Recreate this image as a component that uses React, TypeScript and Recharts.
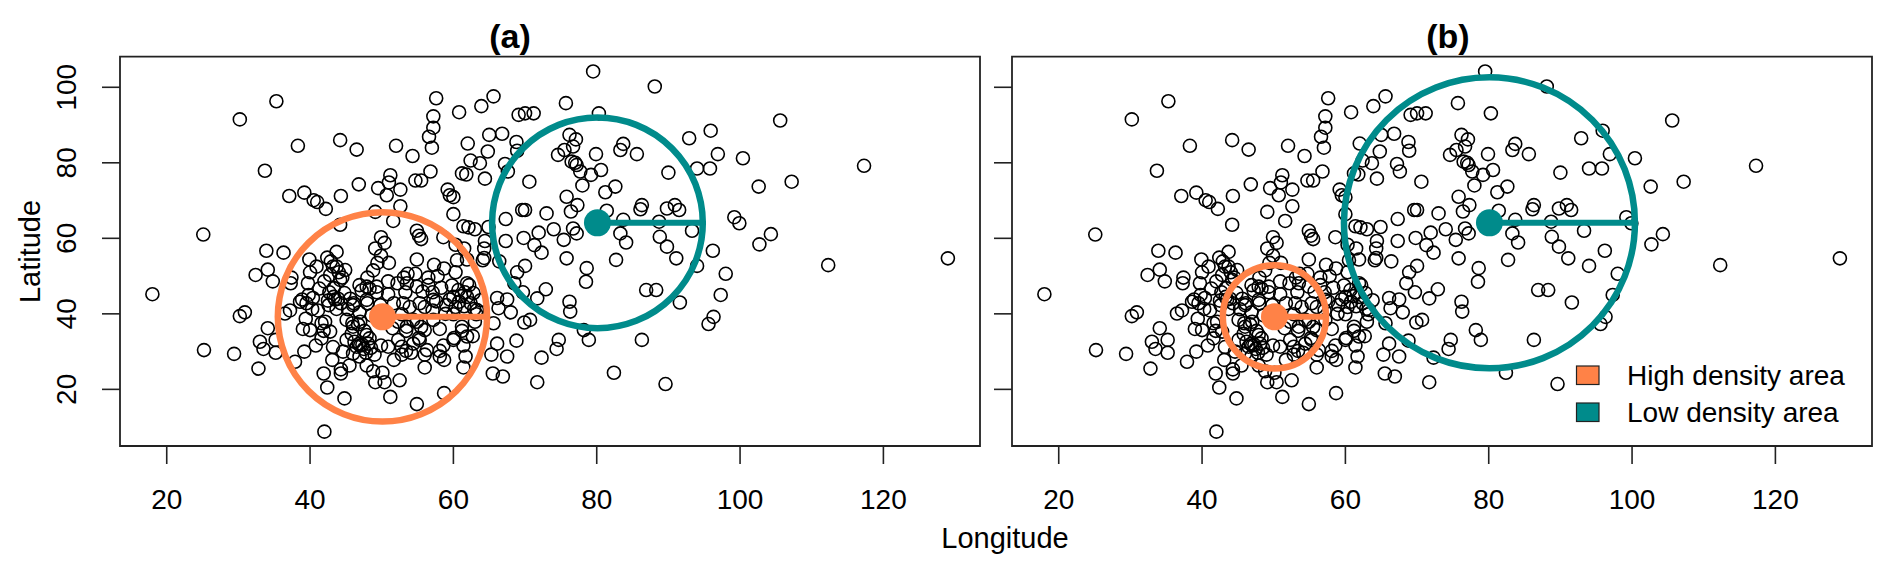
import { ScatterChart, Scatter, XAxis, YAxis, ReferenceArea } from 'recharts'

const FONT = '"Liberation Sans", Arial, Helvetica, sans-serif'

// point cloud (panel b shows the same points)
const longitude = [
  35.3, 30.2, 57.6, 65.6, 63.9, 60.8, 57.2, 57.2, 56.6, 57.0,
  69.1, 65.0, 66.8, 62.0, 64.8, 68.8, 68.9, 62.4, 63.7, 61.2,
  61.8, 64.4, 67.2, 67.6, 38.3, 44.2, 46.5, 33.7, 52.0, 54.3,
  56.8, 54.7, 55.5, 51.2, 51.0, 52.6, 49.5, 50.7, 46.8, 44.3,
  37.1, 39.2, 40.5, 41.0, 42.2, 59.2, 59.5, 60.0, 49.1, 52.6,
  44.2, 51.6, 60.0, 61.4, 62.1, 63.0, 64.9, 67.3, 69.6, 54.9,
  55.2, 55.5, 58.6, 60.3, 64.4, 67.3, 69.8, 66.4, 64.3, 61.5,
  61.9, 60.5, 64.1, 64.3, 68.9, 68.5, 69.7, 68.8, 68.0, 67.5,
  66.1, 65.6, 66.1, 67.5, 65.3, 65.5, 66.9, 18.0, 25.1, 25.2,
  29.4, 30.2, 30.9, 32.4, 33.9, 34.1, 36.3, 34.8, 32.8, 33.0,
  33.5, 34.1, 35.2, 35.2, 36.5, 37.2, 37.4, 37.3, 37.9, 39.2,
  39.0, 39.9, 40.0, 39.7, 38.9, 39.5, 40.4, 40.3, 41.1, 41.3,
  42.4, 42.9, 43.7, 43.2, 44.0, 44.5, 42.0, 42.7, 43.5, 44.3,
  43.7, 42.6, 42.1, 41.6, 41.9, 40.8, 43.2, 43.1, 41.9, 42.4,
  44.3, 44.3, 44.8, 42.0, 45.5, 45.9, 46.7, 46.2, 47.0, 47.5,
  48.1, 47.8, 46.9, 47.9, 48.8, 49.1, 50.4, 50.1, 51.2, 52.5,
  51.7, 49.9, 50.9, 52.8, 53.4, 54.1, 54.4, 55.2, 54.9, 55.5,
  56.0, 56.0, 54.9, 58.7, 58.1, 58.7, 58.6, 58.1, 60.1, 61.2,
  61.4, 61.7, 61.4, 62.7, 63.0, 63.2, 60.0, 60.3, 61.1, 61.6,
  62.2, 62.4, 62.9, 59.5, 59.0, 57.6, 57.1, 56.5, 54.9, 53.3,
  53.0, 53.9, 52.8, 52.3, 53.4, 52.3, 56.0, 57.1, 56.5, 54.7,
  53.1, 53.6, 54.9, 57.3, 58.7, 60.3, 51.0, 49.9, 49.1, 49.4,
  48.8, 49.9, 50.4, 48.0, 46.9, 48.3, 47.2, 46.1, 48.0, 49.3,
  50.9, 51.7, 52.2, 47.6, 79.5, 88.1, 105.6, 75.7, 80.3, 70.0,
  71.2, 92.9, 95.9, 96.9, 100.4, 95.8, 94.0, 117.3, 102.6, 107.2,
  90.0, 85.6, 83.7, 83.3, 79.9, 76.2, 77.1, 76.7, 75.5, 74.6,
  76.5, 77.2, 77.7, 79.2, 80.6, 70.6, 78.0, 81.2, 82.6, 75.8,
  77.3, 76.4, 73.0, 70.0, 81.4, 83.7, 86.3, 86.1, 89.8, 90.9,
  91.5, 88.7, 93.3, 99.2, 99.9, 104.3, 102.7, 96.2, 88.8, 89.8,
  91.1, 83.3, 84.1, 76.7, 77.2, 75.4, 74.0, 71.9, 71.3, 72.3,
  75.8, 82.7, 77.0, 112.3, 129.0, 98.0, 97.3, 96.3, 95.6, 94.0,
  91.6, 86.9, 88.3, 86.3, 78.6, 78.5, 76.2, 76.3, 72.9, 71.7,
  70.0, 70.7, 69.9, 78.2, 78.9, 74.7, 74.4, 72.3, 71.7, 82.4,
  89.6, 40.0, 38.6, 39.8, 42.8, 41.6, 45.1, 46.5, 46.0, 47.0,
  45.1, 46.0, 52.8, 47.9, 43.3, 43.3, 44.2, 42.8, 40.9, 43.7,
  44.9, 46.0, 47.9, 49.3, 47.9, 53.5, 55.3, 57.2, 60.0, 60.7,
  61.9, 61.9, 63.3, 61.2, 61.9, 60.0, 58.1, 56.3, 55.3, 53.5,
  54.4, 56.0, 57.2, 66.3, 46.8, 47.3, 48.5, 43.9, 42.5, 60.8,
  61.5, 44.8, 45.6, 46.9, 45.3, 48.6, 49.8, 50.9, 58.3, 59.8,
  62.8, 63.8, 58.9, 44.6, 45.8, 49.0, 48.3, 51.5, 55.7, 57.8,
  39.4,
]

const latitude = [
  96.3, 91.5, 97.1, 97.6, 95.0, 93.4, 92.3, 89.3, 86.9, 84.0,
  92.7, 87.4, 87.7, 85.1, 83.0, 85.5, 83.2, 80.6, 79.9, 77.2,
  76.9, 75.8, 79.7, 77.7, 84.5, 86.0, 83.5, 77.9, 84.5, 81.8,
  77.7, 75.3, 75.3, 76.7, 74.8, 72.9, 73.3, 71.4, 74.3, 71.2,
  71.2, 72.1, 70.1, 69.6, 67.8, 72.9, 71.4, 70.9, 67.0, 68.5,
  63.6, 64.6, 66.4, 63.2, 62.9, 62.4, 63.0, 65.1, 67.5, 62.0,
  60.7, 59.8, 60.3, 58.3, 59.3, 59.3, 60.1, 53.9, 57.3, 57.3,
  54.4, 54.2, 54.2, 54.8, 51.0, 48.1, 45.7, 32.9, 40.4, 43.8,
  44.2, 37.5, 32.1, 28.7, 29.2, 24.2, 23.4, 45.2, 61.0, 30.4,
  29.4, 39.4, 40.4, 50.3, 56.7, 51.7, 56.2, 48.6, 25.5, 32.6,
  30.7, 36.2, 33.1, 29.7, 40.1, 40.9, 49.6, 48.1, 27.3, 30.0,
  36.0, 54.4, 51.0, 48.1, 43.8, 42.8, 44.2, 41.3, 40.9, 46.7,
  54.9, 53.9, 56.4, 52.5, 51.0, 49.6, 48.6, 45.7, 43.8, 42.8,
  41.3, 42.3, 37.9, 37.5, 35.5, 31.6, 31.2, 27.8, 24.2, 20.5,
  25.3, 24.2, 17.6, 8.8, 26.3, 37.5, 37.2, 32.6, 31.6, 30.7,
  32.1, 29.7, 28.7, 26.3, 24.8, 21.9, 21.9, 24.4, 18.0, 22.4,
  27.8, 31.6, 31.3, 29.2, 30.2, 29.7, 32.1, 33.6, 37.9, 36.5,
  29.2, 25.8, 16.1, 19.0, 30.2, 27.8, 31.6, 36.0, 33.6, 35.5,
  31.6, 28.7, 25.8, 34.1, 37.9, 39.9, 39.9, 41.8, 44.7, 45.7,
  47.6, 42.8, 41.3, 43.8, 42.3, 43.3, 45.7, 47.6, 47.2, 45.7,
  42.8, 41.8, 39.9, 37.9, 35.5, 33.1, 41.8, 40.9, 49.6, 50.6,
  49.6, 50.6, 54.4, 53.0, 52.0, 51.0, 53.5, 55.4, 57.3, 53.5,
  51.5, 60.3, 58.8, 49.6, 47.6, 46.7, 46.2, 42.8, 42.8, 45.7,
  48.6, 42.8, 48.1, 35.5, 104.2, 100.2, 91.2, 95.8, 93.1, 93.1,
  93.1, 86.5, 88.5, 82.3, 81.2, 78.5, 78.5, 79.2, 73.7, 75.0,
  77.4, 82.3, 85.0, 83.4, 82.3, 87.4, 86.2, 84.3, 83.4, 82.1,
  80.3, 79.4, 77.7, 76.8, 78.1, 75.0, 74.0, 72.2, 73.7, 71.0,
  68.8, 67.1, 66.6, 67.5, 67.3, 64.9, 68.8, 67.7, 67.9, 68.8,
  67.5, 64.4, 62.0, 65.6, 64.0, 61.1, 58.4, 56.7, 60.4, 57.8,
  54.7, 61.3, 58.9, 62.6, 61.3, 59.6, 62.4, 61.5, 58.2, 56.2,
  54.7, 54.3, 80.0, 52.9, 54.7, 50.6, 45.0, 39.2, 37.3, 52.7,
  43.0, 46.3, 46.3, 33.1, 52.1, 48.5, 43.2, 40.6, 46.5, 44.1,
  52.7, 38.4, 37.7, 35.7, 33.1, 33.1, 30.7, 28.4, 21.9, 24.4,
  21.4, 35.7, 43.2, 45.0, 35.3, 33.5, 33.1, 31.3, 36.6, 37.9,
  38.4, 29.5, 31.3, 34.4, 44.5, 46.8, 49.0, 50.3, 52.5, 52.5,
  51.6, 42.3, 43.7, 47.2, 47.2, 48.1, 42.8, 43.7, 44.5, 46.3,
  48.1, 44.5, 41.0, 36.6, 34.0, 33.1, 28.7, 30.4, 33.1, 36.6,
  38.4, 35.7, 38.4, 41.5, 32.0, 31.8, 31.0, 44.0, 43.5, 43.2,
  42.0, 45.5, 44.0, 40.4, 41.2, 39.6, 42.3, 45.2, 46.9, 47.5,
  45.5, 43.6, 40.0, 30.0, 34.7, 29.2, 33.5, 36.2, 45.9, 50.0,
  38.7,
]

// high / low density area centres and radii (longitude units)
const areaNames = ['High density area', 'Low density area']
const areaColors = ['#FF8247', '#008B8B']
const centerLon = [50.1, 80.1]
const centerLat = [39.2, 64.1]
const radiusPanelA = [14.6, 14.7]
const radiusPanelB = [7.2, 20.3]

const xTicks = [20, 40, 60, 80, 100, 120]
const yTicks = [20, 40, 60, 80, 100]

const X_DOMAIN: [number, number] = [13.48, 133.48]
const Y_DOMAIN: [number, number] = [5.0, 108.1]
const PLOT_W = 860
const PX_PER_LON = PLOT_W / (X_DOMAIN[1] - X_DOMAIN[0])

const points = longitude.map((lon, i) => ({ lon, lat: latitude[i] }))

const OpenCircle = (props: any) => {
  const { cx, cy } = props
  if (cx == null || cy == null) return <g />
  return <circle cx={cx} cy={cy} r={6.5} fill="none" stroke="#000" strokeWidth={1.6} />
}

const AreaMarker = (props: any) => {
  const { cx, cy, payload } = props
  if (cx == null || cy == null) return <g />
  const r = payload.radius * PX_PER_LON
  return (
    <g>
      <circle cx={cx} cy={cy} r={r} fill="none" stroke={payload.color} strokeWidth={6.5} />
      <line x1={cx} y1={cy} x2={cx + r} y2={cy} stroke={payload.color} strokeWidth={6} />
      <circle cx={cx} cy={cy} r={13.5} fill={payload.color} />
    </g>
  )
}

const XTick = ({ x, y, payload }: any) => (
  <text x={x} y={y + 33.7} textAnchor="middle" dominantBaseline="central" fontSize={28} fontFamily={FONT} fill="#000">
    {payload.value}
  </text>
)

const YTick = ({ x, y, payload }: any) => {
  const cx = x - 33
  return (
    <text x={cx} y={y} textAnchor="middle" dominantBaseline="central" fontSize={28} fontFamily={FONT} fill="#000" transform={`rotate(-90 ${cx} ${y})`}>
      {payload.value}
    </text>
  )
}

const NoTick = () => <g />

function Panel({ left, radii, latLabels }: { left: number; radii: number[]; latLabels: boolean }) {
  const areas = centerLon.map((lon, i) => ({ lon, lat: centerLat[i], radius: radii[i], color: areaColors[i] }))
  return (
    <div style={{ position: 'absolute', left, top: 0 }}>
      <ScatterChart width={1000} height={573} margin={{ top: 56.7, right: 20, bottom: 0, left: 0 }}>
        <XAxis
          type="number"
          dataKey="lon"
          domain={X_DOMAIN}
          ticks={xTicks}
          interval={0}
          allowDataOverflow
          axisLine={false}
          tickSize={18}
          tickLine={{ stroke: '#222', strokeWidth: 1.6 }}
          tick={(p: any) => <XTick {...p} />}
          height={127}
        />
        <YAxis
          type="number"
          dataKey="lat"
          domain={Y_DOMAIN}
          ticks={yTicks}
          interval={0}
          allowDataOverflow
          axisLine={false}
          tickSize={18}
          tickLine={{ stroke: '#222', strokeWidth: 1.6 }}
          tick={(p: any) => (latLabels ? <YTick {...p} /> : <NoTick />)}
          width={120}
        />
        <ReferenceArea
          x1={X_DOMAIN[0]}
          x2={X_DOMAIN[1]}
          y1={Y_DOMAIN[0]}
          y2={Y_DOMAIN[1]}
          fill="none"
          fillOpacity={0}
          stroke="#222"
          strokeWidth={1.8}
          ifOverflow="visible"
        />
        <Scatter data={points} dataKey="lat" shape={OpenCircle} isAnimationActive={false} />
        <Scatter data={areas} dataKey="lat" shape={AreaMarker} isAnimationActive={false} />
      </ScatterChart>
    </div>
  )
}

export default function App() {
  return (
    <div style={{ position: 'absolute', left: 0, top: 0, width: 1892, height: 573, background: '#fff', overflow: 'hidden' }}>
      <Panel left={0} radii={radiusPanelA} latLabels />
      <Panel left={892} radii={radiusPanelB} latLabels={false} />
      <svg width={1892} height={573} style={{ position: 'absolute', left: 0, top: 0, pointerEvents: 'none' }} fontFamily={FONT}>
        <text x={510} y={48} textAnchor="middle" fontSize={34} fontWeight="bold">(a)</text>
        <text x={1448} y={48} textAnchor="middle" fontSize={34} fontWeight="bold">(b)</text>
        <text x={30} y={251.5} textAnchor="middle" dominantBaseline="central" fontSize={29} transform="rotate(-90 30 251.5)">
          Latitude
        </text>
        <text x={1005} y={538} textAnchor="middle" dominantBaseline="central" fontSize={29}>
          Longitude
        </text>
        {areaNames.map((name, i) => (
          <g key={name}>
            <rect x={1576.5} y={366 + i * 37} width={22.5} height={18.5} fill={areaColors[i]} stroke="#222" strokeWidth={1.2} />
            <text x={1627} y={375.5 + i * 37} dominantBaseline="central" fontSize={28}>
              {name}
            </text>
          </g>
        ))}
      </svg>
    </div>
  )
}
